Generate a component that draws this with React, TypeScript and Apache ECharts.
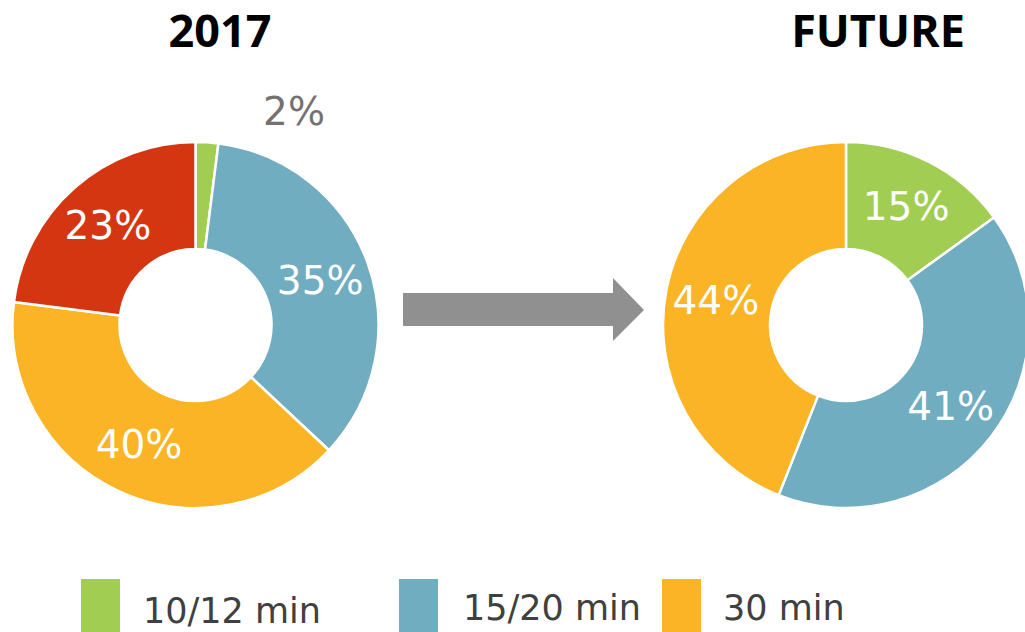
import React, { useEffect, useRef } from 'react';
import * as echarts from 'echarts';

const categories = ['10/12 min', '15/20 min', '30 min', 'other'];
const legendCategories = ['10/12 min', '15/20 min', '30 min'];
const panelTitles = ['2017', 'FUTURE'];
const values2017 = [2, 35, 40, 23];
const valuesFuture = [15, 41, 44];
const colors = ['#A1CE52', '#71ADC0', '#FBB426', '#D43611'];

export default function App() {
  const ref = useRef<HTMLDivElement>(null);
  useEffect(() => {
    const chart = echarts.init(ref.current as HTMLDivElement, null, { renderer: 'svg' });
    const labelFont = 'DejaVu Sans';
    const makeData = (vals: number[]) =>
      vals.map((v, i) => ({
        name: categories[i],
        value: v,
        itemStyle: { color: colors[i] },
        label: v < 5 ? { show: false } : undefined,
      }));
    const pieBase = {
      type: 'pie',
      radius: [76, 183],
      startAngle: 90,
      clockwise: true,
      avoidLabelOverlap: false,
      itemStyle: { borderColor: '#ffffff', borderWidth: 2.5 },
      label: {
        show: true,
        position: 'inside',
        formatter: '{c}%',
        color: '#ffffff',
        fontFamily: labelFont,
        fontSize: 39,
      },
      labelLine: { show: false },
      emphasis: { disabled: true },
    };

    // small-slice label (2%) placed outside, above the slice
    const small = values2017.findIndex((v) => v < 5);

    const titleX = [220, 878];
    const legendSquareX = [81, 399, 662];
    const legendTextX = [143, 463, 723];
    const legendTextY = [611, 608, 608];

    const graphics: any[] = [];
    panelTitles.forEach((t, i) => {
      graphics.push({
        type: 'text',
        x: titleX[i],
        y: 29,
        style: {
          text: t,
          fontFamily: 'Open Sans',
          fontWeight: 'bold',
          fontSize: 45,
          fill: '#000000',
          textAlign: 'center',
          textVerticalAlign: 'middle',
        },
      });
    });
    if (small >= 0) {
      graphics.push({
        type: 'text',
        x: 294,
        y: 111,
        style: {
          text: values2017[small] + '%',
          fontFamily: labelFont,
          fontSize: 39,
          fill: '#767171',
          textAlign: 'center',
          textVerticalAlign: 'middle',
        },
      });
    }
    // arrow
    graphics.push({
      type: 'polygon',
      shape: {
        points: [
          [403, 293],
          [613, 293],
          [613, 278],
          [644, 310],
          [613, 341],
          [613, 326],
          [403, 326],
        ],
      },
      style: { fill: '#909090' },
    });
    legendCategories.forEach((c, i) => {
      graphics.push({
        type: 'rect',
        shape: { x: legendSquareX[i], y: 579, width: 39, height: 60 },
        style: { fill: colors[categories.indexOf(c)] },
      });
      graphics.push({
        type: 'text',
        x: legendTextX[i],
        y: legendTextY[i],
        style: {
          text: c,
          fontFamily: labelFont,
          fontSize: 35,
          fill: '#404040',
          textAlign: 'left',
          textVerticalAlign: 'middle',
        },
      });
    });

    chart.setOption({
      animation: false,
      backgroundColor: '#ffffff',
      series: [
        { ...pieBase, name: panelTitles[0], center: [195.5, 325], data: makeData(values2017) },
        { ...pieBase, name: panelTitles[1], center: [846, 325], data: makeData(valuesFuture) },
      ],
      graphic: graphics,
    });
    return () => chart.dispose();
  }, []);
  return (
    <div
      ref={ref}
      style={{ position: 'fixed', left: 0, top: 0, width: 1025, height: 632 }}
    />
  );
}
